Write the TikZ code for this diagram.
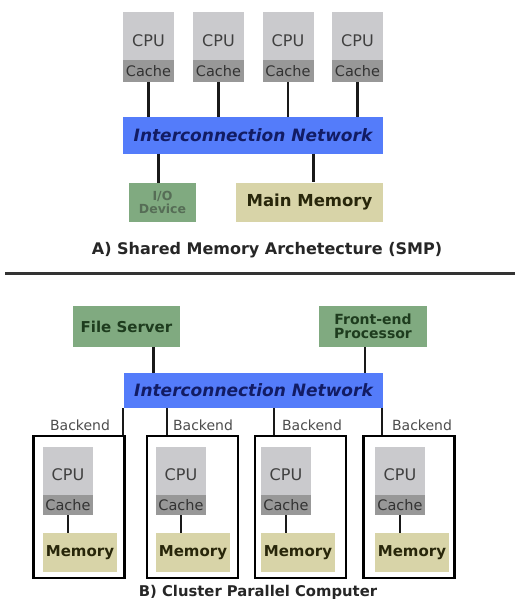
\documentclass[tikz,border=0pt]{standalone}
\usepackage{fontspec}
\setmainfont{DejaVu Sans}
\definecolor{cpugray}{RGB}{202, 202, 205}
\definecolor{cachegray}{RGB}{152, 152, 152}
\definecolor{netblue}{RGB}{84, 124, 250}
\definecolor{netnavy}{RGB}{18, 28, 100}
\definecolor{boxgreen}{RGB}{128, 170, 128}
\definecolor{greentext}{RGB}{30, 60, 30}
\definecolor{memkhaki}{RGB}{216, 212, 168}
\definecolor{memtext}{RGB}{40, 38, 10}
\newcommand{\fsz}[1]{\fontsize{#1}{#1}\selectfont}
\tikzset{
  cpubox/.style={fill=cpugray, inner sep=0, minimum width=51, minimum height=48, text height=21, text depth=0, text=black!75, font=\fsz{16}},
  cachebox/.style={fill=cachegray, inner sep=0, minimum width=51, minimum height=22, text=black!80, font=\fsz{14.5}},
  netbox/.style={fill=netblue, inner sep=0, minimum height=36, text=netnavy, font=\fsz{17}\bfseries\itshape},
  greenbox/.style={fill=boxgreen, inner sep=0, minimum height=41, text=greentext, font=\fsz{14}\bfseries, align=center},
  membox/.style={fill=memkhaki, inner sep=0, minimum height=39, text=memtext, font=\fsz{15}\bfseries},
  backendbox/.style={draw=black, line width=2.5, inner sep=0, minimum width=91, minimum height=142},
  backlabel/.style={inner sep=0, text=black!70, font=\fsz{14}},
  caption/.style={inner sep=0, text=black!85, font=\fsz{14.8}\bfseries},
  link/.style={line width=2.6, black!90}
}

\begin{document}
\begin{tikzpicture}[x=1pt, y=-1pt]
\useasboundingbox (0,0) rectangle (515,599);

% A) shared memory
\foreach \i/\cx in {1/148.5, 2/218.5, 3/288, 4/357.5} {
  \node[cpubox] (cpuA\i) at (\cx,36) {CPU};
  \node[cachebox] (cacheA\i) at (\cx,71) {Cache};
}
\node[netbox, minimum width=260] (netA) at (253,135.5) {Interconnection Network};
\node[greenbox, minimum width=67, minimum height=39, font=\fsz{12.5}\bfseries, text=greentext!75] (io) at (162.5,202.5) {I/O\\Device};
\node[membox, minimum width=147, font=\fsz{16.5}\bfseries] (mainmem) at (309.5,202) {Main Memory};
\foreach \i in {1,...,4}
  \draw[link] (cacheA\i.south) -- (cacheA\i.south |- netA.north);
\draw[link] ([xshift=-4]io.north |- netA.south) -- ([xshift=-4]io.north);
\draw[link] ([xshift=4]mainmem.north |- netA.south) -- ([xshift=4]mainmem.north);
\node[caption, font=\fsz{16}\bfseries] (captA) at (267,250) {A) Shared Memory Archetecture (SMP)};

% separator
\coordinate (sepl) at (5,273);
\coordinate (sepr) at (515,273);
\draw[line width=3, black!80] (sepl) -- (sepr);

% B) cluster
\node[greenbox, minimum width=107, font=\fsz{15}\bfseries] (fs) at (126.5,326.5) {File Server};
\node[greenbox, minimum width=108] (fep) at (373,326.5) {Front-end\\Processor};
\node[netbox, minimum width=259, minimum height=35] (netB) at (253.5,390.5) {Interconnection Network};
\draw[link] ([xshift=27]fs.south) -- ([xshift=27]fs.south |- netB.north);
\draw[link] ([xshift=-8]fep.south) -- ([xshift=-8]fep.south |- netB.north);

\foreach \i/\bx/\cx/\lx/\tx in {1/79/43/123/80, 2/192.5/156/167/203, 3/300.5/261/274/312, 4/409/375/382/422} {
  \node[backendbox] (back\i) at (\bx,507) {};
  \node[cpubox, minimum width=50, text height=19.5] (cpuB\i) at (\cx+25,471) {CPU};
  \node[cachebox, minimum width=50, minimum height=20] (cacheB\i) at (\cx+25,505) {Cache};
  \node[membox, minimum width=74] (memB\i) at (\cx+37,552.5) {Memory};
  \coordinate (tap\i) at (\lx,0);
  \node[backlabel] (lab\i) at (\tx,425) {Backend};
  \draw[link] (cacheB\i.south) -- (cacheB\i.south |- memB\i.north);
  \draw[link] (netB.south -| tap\i) -- (back\i.north -| tap\i);
}
\node[caption] (captB) at (258,592) {B) Cluster Parallel Computer};
\end{tikzpicture}
\end{document}
